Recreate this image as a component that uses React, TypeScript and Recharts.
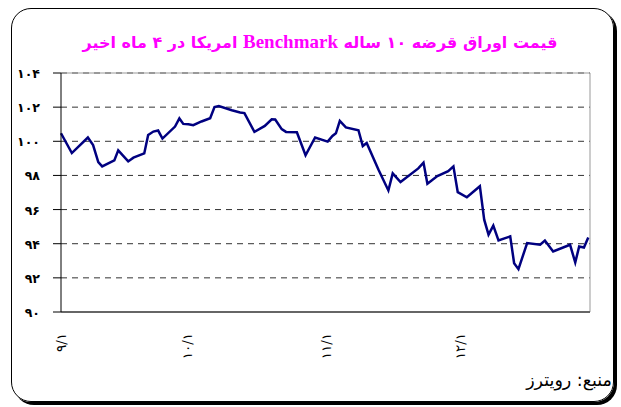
import React from 'react';
import { LineChart, Line, XAxis, YAxis, CartesianGrid, ReferenceLine } from 'recharts';

const days = [0, 2.5, 6.2, 7.4, 8.6, 9.5, 12.3, 13.2, 15.5, 16.7, 19.2, 20.1, 21.3, 22.4, 23.4, 26.3, 27.3, 28.2, 29.4, 30.5, 32.4, 34.4, 35.4, 36.4, 39.4, 41.3, 42.3, 44.6, 47.0, 48.6, 49.4, 50.9, 51.9, 54.4, 56.4, 58.6, 61.5, 62.6, 63.4, 64.3, 65.7, 68.6, 69.6, 70.5, 73.2, 75.5, 76.5, 78.3, 82.4, 83.6, 84.5, 86.8, 89.3, 90.5, 91.5, 93.6, 96.6, 97.6, 98.6, 99.7, 100.9, 103.6, 104.5, 105.5, 107.5, 110.5, 111.6, 113.5, 117.4, 118.6, 119.5, 120.6, 121.6];
const prices = [100.47, 99.31, 100.22, 99.78, 98.78, 98.53, 98.88, 99.47, 98.82, 99.04, 99.29, 100.37, 100.57, 100.63, 100.16, 100.86, 101.34, 101.02, 101.0, 100.94, 101.16, 101.35, 102.0, 102.06, 101.82, 101.69, 101.65, 100.55, 100.9, 101.29, 101.28, 100.71, 100.55, 100.53, 99.18, 100.22, 99.98, 100.31, 100.47, 101.19, 100.81, 100.65, 99.72, 99.9, 98.35, 97.12, 98.12, 97.61, 98.41, 98.75, 97.51, 97.96, 98.25, 98.53, 97.02, 96.72, 97.37, 95.41, 94.53, 95.06, 94.19, 94.43, 92.86, 92.51, 94.04, 93.94, 94.19, 93.55, 93.94, 92.9, 93.84, 93.78, 94.37];
const tickDays = [0, 29, 61, 92];
const tickLabels = ['۹/۱', '۱۰/۱', '۱۱/۱', '۱۲/۱'];
const yTicks = [90, 92, 94, 96, 98, 100, 102, 104];
const titleStart = 'قیمت اوراق قرضه ۱۰ ساله ';
const titleLatin = 'Benchmark';
const titleEnd = ' امریکا در ۴ ماه اخیر';
const sourceText = 'منبع: رویترز';

const data = days.map((d, i) => ({ day: d, price: prices[i] }));
const fa = (n: number | string) => String(n).replace(/\d/g, (d) => '۰۱۲۳۴۵۶۷۸۹'[+d]);

const YTick = (props: any) => {
  const { x, y, payload } = props;
  return (
    <text x={x} y={y} dy={5} textAnchor="end" fontFamily="DejaVu Sans" fontWeight="bold" fontSize={12.5} fill="#000">
      {fa(payload.value)}
    </text>
  );
};

const XTick = (props: any) => {
  const { x, payload } = props;
  const idx = tickDays.indexOf(payload.value);
  const label = idx >= 0 ? tickLabels[idx] : '';
  const ty = 333;
  return (
    <text
      x={x}
      y={ty}
      dy={5}
      transform={`rotate(-90, ${x}, ${ty})`}
      textAnchor="end"
      fontFamily="DejaVu Sans"
      fontSize={13.5}
      fill="#000"
      direction="ltr"
    >
      {label}
    </text>
  );
};

export default function App() {
  return (
    <div style={{ position: 'absolute', left: 0, top: 0, width: 621, height: 407, background: '#fff' }}>
      <div
        style={{
          position: 'absolute',
          left: 11,
          top: 8,
          width: 601,
          height: 392,
          border: '1.5px solid #000',
          borderRadius: 20,
          boxShadow: '3px 3px 0 #000',
        }}
      />
      <div
        dir="rtl"
        style={{
          position: 'absolute',
          left: 0,
          top: 31,
          width: 640,
          textAlign: 'center',
          color: '#ff00ff',
          fontFamily: 'DejaVu Sans',
          fontWeight: 'bold',
          fontSize: 16,
          lineHeight: '22px',
        }}
      >
        {titleStart}
        <span style={{ fontFamily: 'Liberation Serif', fontSize: 19 }}>{titleLatin}</span>
        {titleEnd}
      </div>
      <div
        dir="rtl"
        style={{
          position: 'absolute',
          right: 9,
          top: 370,
          fontFamily: 'DejaVu Sans',
          fontWeight: 'normal',
          fontSize: 17.5,
          color: '#000',
        }}
      >
        {sourceText}
      </div>
      <div style={{ position: 'absolute', left: 0, top: 0 }}>
        <LineChart width={621} height={407} data={data} margin={{ top: 73, right: 31, bottom: 45, left: 11 }}>
          <CartesianGrid vertical={false} stroke="#333" strokeDasharray="6 5" />
          <XAxis
            dataKey="day"
            type="number"
            domain={[0, 122]}
            ticks={tickDays}
            tick={<XTick />}
            tickLine={false}
            axisLine={{ stroke: '#666', strokeWidth: 2 }}
            height={50}
            interval={0}
          />
          <YAxis
            type="number"
            domain={[90, 104]}
            ticks={yTicks}
            tick={<YTick />}
            tickSize={8}
            tickMargin={13}
            tickLine={{ stroke: '#000' }}
            axisLine={{ stroke: '#000' }}
            width={50}
            interval={0}
          />
          <ReferenceLine y={104} stroke="#999" />
          <ReferenceLine x={122} stroke="#999" />
          <Line
            type="linear"
            dataKey="price"
            stroke="#000080"
            strokeWidth={2.5}
            dot={false}
            isAnimationActive={false}
          />
        </LineChart>
      </div>
    </div>
  );
}
